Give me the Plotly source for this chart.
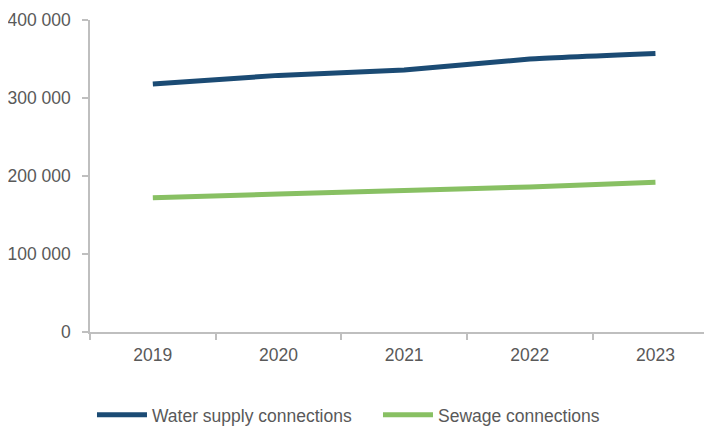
import plotly.graph_objects as go

years = ["2019", "2020", "2021", "2022", "2023"]
water_supply = [318000, 329000, 336000, 350000, 357000]
sewage = [172000, 177000, 181500, 186000, 192000]
y_ticks = [0, 100000, 200000, 300000, 400000]
y_tick_labels = ["0", "100 000", "200 000", "300 000", "400 000"]

font_family = "Liberation Sans, Arial, sans-serif"
text_color = "#595959"
axis_color = "#bfbfbf"
fs = 17.5

fig = go.Figure()
fig.add_trace(go.Scatter(
    x=years, y=water_supply, name="Water supply connections", mode="lines",
    line=dict(color="#1b4b74", width=5, shape="spline", smoothing=0.4),
))
fig.add_trace(go.Scatter(
    x=years, y=sewage, name="Sewage connections", mode="lines",
    line=dict(color="#88c063", width=5, shape="spline", smoothing=0.4),
))

fig.update_layout(
    width=704, height=419,
    margin=dict(l=82, r=0, t=12, b=95, autoexpand=False),
    paper_bgcolor="white", plot_bgcolor="white",
    font=dict(family=font_family, size=fs, color=text_color),
    showlegend=True,
    legend=dict(orientation="h", x=0.463, xanchor="center", y=-0.266, yanchor="middle",
                font=dict(family=font_family, size=fs, color=text_color),
                itemwidth=50, tracegroupgap=0, entrywidth=221),
    xaxis=dict(
        type="category", range=[-0.5, 4.45],
        showline=True, linecolor=axis_color, linewidth=1.5,
        ticks="outside", tickson="boundaries", ticklen=6, tickcolor=axis_color, tickwidth=1.5,
        showgrid=False, zeroline=False, ticklabelstandoff=6,
        tickfont=dict(family=font_family, size=fs, color=text_color),
    ),
    yaxis=dict(
        range=[0, 400000], tickvals=y_ticks, ticktext=y_tick_labels,
        showline=True, linecolor=axis_color, linewidth=1.5,
        ticks="outside", ticklen=6, tickcolor=axis_color, tickwidth=1.5,
        showgrid=False, zeroline=False, ticklabelstandoff=8,
        tickfont=dict(family=font_family, size=fs, color=text_color),
    ),
)

fig.write_html("out.html")
